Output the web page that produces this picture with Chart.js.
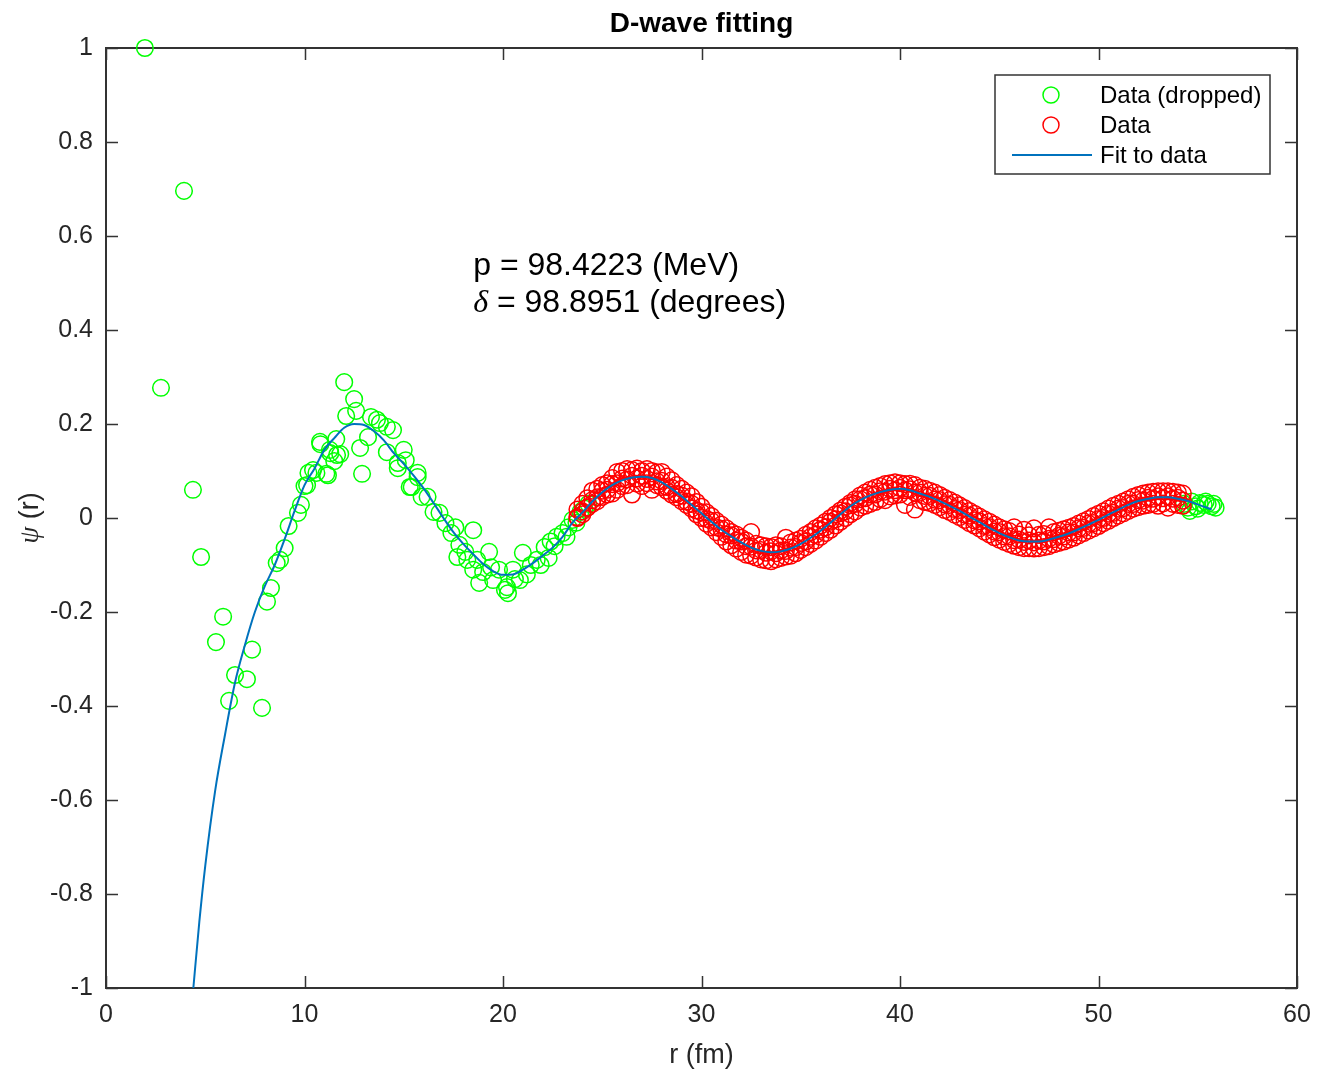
<!DOCTYPE html>
<html>
<head>
<meta charset="utf-8">
<title>D-wave fitting</title>
<script src="https://cdn.jsdelivr.net/npm/chart.js@4.4.1/dist/chart.umd.min.js"></script>
<style>
  html, body { margin: 0; padding: 0; background: #fff; }
  #wrap { width: 1319px; height: 1074px; }
</style>
</head>
<body>
<div id="wrap"><canvas id="chart" width="1319" height="1074"></canvas></div>
<script>
// axis ticks
const xTicks = [0, 10, 20, 30, 40, 50, 60];
const xTickLabels = ['0', '10', '20', '30', '40', '50', '60'];
const yTicks = [-1, -0.8, -0.6, -0.4, -0.2, 0, 0.2, 0.4, 0.6, 0.8, 1];
const yTickLabels = ['-1', '-0.8', '-0.6', '-0.4', '-0.2', '0', '0.2', '0.4', '0.6', '0.8', '1'];

// dropped data (green)
const greenX = [1.96, 2.77, 3.93, 4.38, 4.79, 5.54, 5.9, 6.2, 6.5, 7.1, 7.36, 7.86, 8.11, 8.31, 8.6, 8.77, 9.0, 9.2,
  9.67, 9.82, 10.0, 10.13, 10.2, 10.43, 10.6, 10.78, 10.8, 11.1, 11.18, 11.28, 11.3, 11.5, 11.6, 11.64, 11.8, 12.0,
  12.1, 12.5, 12.6, 12.8, 12.9, 13.2, 13.35, 13.65, 13.8, 14.15, 14.15, 14.46, 14.7, 14.7, 15.0, 15.1, 15.3, 15.4,
  15.7, 15.7, 15.9, 16.2, 16.5, 16.8, 17.1, 17.4, 17.6, 17.7, 17.8, 18.1, 18.2, 18.5, 18.5, 18.7, 18.8, 19.0, 19.3,
  19.4, 19.5, 19.8, 20.1, 20.2, 20.25, 20.5, 20.6, 20.85, 21.0, 21.2, 21.4, 21.7, 21.9, 22.1, 22.3, 22.4, 22.6, 22.7,
  23.0, 23.2, 23.3, 23.5, 23.7, 23.9, 24.1, 24.3,
  54.3, 54.5, 54.6, 54.7, 54.9, 55.0, 55.1, 55.3, 55.4, 55.5, 55.7, 55.8, 55.9];
const greenY = [1.0, 0.277, 0.696, 0.06, -0.083, -0.264, -0.21, -0.389, -0.334, -0.343, -0.28, -0.404, -0.178, -0.149, -0.096, -0.089, -0.064, -0.017,
  0.011, 0.028, 0.068, 0.07, 0.096, 0.102, 0.096, 0.162, 0.157, 0.094, 0.091, 0.145, 0.138, 0.121, 0.168, 0.134, 0.136, 0.289,
  0.217, 0.253, 0.228, 0.149, 0.094, 0.172, 0.215, 0.209, 0.202, 0.194, 0.14, 0.187, 0.106, 0.117, 0.145, 0.123, 0.066, 0.066,
  0.087, 0.096, 0.045, 0.045, 0.013, 0.011, -0.011, -0.032, -0.02, -0.083, -0.057, -0.072, -0.089, -0.026, -0.11, -0.089, -0.138, -0.115, -0.072,
  -0.105, -0.132, -0.11, -0.153, -0.147, -0.16, -0.11, -0.13, -0.132, -0.074, -0.12, -0.1, -0.089, -0.1, -0.062, -0.085, -0.05, -0.06, -0.04,
  -0.032, -0.04, -0.02, -0.004, -0.01, 0.013, 0.02, 0.03,
  0.03, 0.022, 0.015, 0.035, 0.025, 0.02, 0.032, 0.028, 0.035, 0.03, 0.025, 0.03, 0.022];

// fitted data (red): three points per r value
const redX = [23.75, 24, 24.25, 24.5, 24.75, 25, 25.25, 25.5, 25.75, 26, 26.25, 26.5, 26.75, 27, 27.25, 27.5, 27.75, 28,
  28.25, 28.5, 28.75, 29, 29.25, 29.5, 29.75, 30, 30.25, 30.5, 30.75, 31, 31.25, 31.5, 31.75, 32, 32.25, 32.5, 32.75, 33,
  33.25, 33.5, 33.75, 34, 34.25, 34.5, 34.75, 35, 35.25, 35.5, 35.75, 36, 36.25, 36.5, 36.75, 37, 37.25, 37.5, 37.75, 38,
  38.25, 38.5, 38.75, 39, 39.25, 39.5, 39.75, 40, 40.25, 40.5, 40.75, 41, 41.25, 41.5, 41.75, 42, 42.25, 42.5, 42.75, 43,
  43.25, 43.5, 43.75, 44, 44.25, 44.5, 44.75, 45, 45.25, 45.5, 45.75, 46, 46.25, 46.5, 46.75, 47, 47.25, 47.5, 47.75, 48,
  48.25, 48.5, 48.75, 49, 49.25, 49.5, 49.75, 50, 50.25, 50.5, 50.75, 51, 51.25, 51.5, 51.75, 52, 52.25, 52.5, 52.75, 53,
  53.25, 53.5, 53.75, 54, 54.25];
const redYUpper = [0.018, 0.03, 0.042, 0.058, 0.062, 0.07, 0.074, 0.085, 0.098, 0.1, 0.104, 0.102, 0.105, 0.1, 0.104, 0.1, 0.097, 0.098,
  0.088, 0.08, 0.07, 0.062, 0.054, 0.046, 0.034, 0.024, 0.012, 0.004, -0.006, -0.014, -0.022, -0.03, -0.035, -0.042, -0.048, -0.03, -0.055, -0.058,
  -0.06, -0.062, -0.058, -0.06, -0.042, -0.052, -0.048, -0.044, -0.036, -0.03, -0.022, -0.016, -0.008, 0.0, 0.008, 0.016, 0.024, 0.032, 0.04, 0.048,
  0.054, 0.06, 0.064, 0.068, 0.072, 0.074, 0.076, 0.074, 0.072, 0.073, 0.07, 0.064, 0.062, 0.058, 0.054, 0.049, 0.043, 0.038, 0.033, 0.027,
  0.021, 0.015, 0.009, 0.003, -0.003, -0.008, -0.014, -0.02, -0.024, -0.028, -0.02, -0.035, -0.025, -0.037, -0.022, -0.036, -0.034, -0.02, -0.03, -0.027,
  -0.024, -0.021, -0.017, -0.012, -0.007, -0.002, 0.004, 0.009, 0.014, 0.02, 0.026, 0.03, 0.035, 0.04, 0.045, 0.049, 0.052, 0.054, 0.056, 0.057,
  0.057, 0.057, 0.056, 0.054, 0.052];
const redYMid = [0.0, 0.014, 0.022, 0.038, 0.044, 0.058, 0.06, 0.072, 0.074, 0.084, 0.082, 0.09, 0.084, 0.09, 0.083, 0.088, 0.078, 0.079,
  0.066, 0.064, 0.051, 0.048, 0.035, 0.03, 0.016, 0.012, -0.002, -0.006, -0.02, -0.023, -0.035, -0.037, -0.048, -0.05, -0.06, -0.061, -0.069, -0.068,
  -0.074, -0.071, -0.075, -0.069, -0.07, -0.063, -0.062, -0.053, -0.05, -0.04, -0.036, -0.025, -0.02, -0.008, -0.003, 0.01, 0.014, 0.027, 0.03, 0.04,
  0.042, 0.05, 0.05, 0.057, 0.056, 0.062, 0.059, 0.064, 0.059, 0.061, 0.054, 0.054, 0.047, 0.047, 0.039, 0.038, 0.029, 0.028, 0.019, 0.017,
  0.007, 0.005, -0.005, -0.007, -0.017, -0.019, -0.029, -0.03, -0.039, -0.039, -0.047, -0.046, -0.051, -0.048, -0.052, -0.048, -0.05, -0.044, -0.045, -0.038,
  -0.039, -0.031, -0.031, -0.022, -0.021, -0.012, -0.011, -0.002, 0.0, 0.009, 0.011, 0.02, 0.021, 0.03, 0.03, 0.038, 0.037, 0.043, 0.041, 0.046,
  0.042, 0.046, 0.041, 0.043, 0.037];
const redYLower = [0.002, 0.008, 0.022, 0.03, 0.036, 0.045, 0.05, 0.052, 0.06, 0.068, 0.07, 0.05, 0.073, 0.068, 0.074, 0.06, 0.07, 0.066,
  0.058, 0.05, 0.044, 0.036, 0.028, 0.02, 0.008, 0.0, -0.012, -0.02, -0.03, -0.04, -0.05, -0.058, -0.065, -0.072, -0.078, -0.08, -0.084, -0.088,
  -0.09, -0.092, -0.088, -0.085, -0.082, -0.08, -0.075, -0.068, -0.062, -0.055, -0.048, -0.04, -0.032, -0.025, -0.016, -0.008, 0.0, 0.008, 0.014, 0.022,
  0.026, 0.03, 0.034, 0.04, 0.038, 0.046, 0.048, 0.05, 0.028, 0.045, 0.018, 0.038, 0.034, 0.032, 0.028, 0.023, 0.017, 0.013, 0.007, 0.002,
  -0.004, -0.011, -0.016, -0.022, -0.029, -0.035, -0.041, -0.046, -0.051, -0.055, -0.059, -0.062, -0.064, -0.064, -0.065, -0.064, -0.062, -0.06, -0.056, -0.053,
  -0.05, -0.046, -0.042, -0.037, -0.032, -0.027, -0.022, -0.017, -0.011, -0.006, 0.0, 0.005, 0.01, 0.015, 0.02, 0.023, 0.026, 0.028, 0.03, 0.026,
  0.031, 0.022, 0.03, 0.028, 0.026];

// fit curve
const fitX = [4.4, 4.7, 5.0, 5.5, 6.0, 6.5, 7.0, 7.5, 8.0, 8.5, 9.0, 9.5, 10.0, 10.5, 11.0, 11.5, 12.0, 12.5, 13.0, 13.5,
  14.0, 14.5, 15.0, 15.5, 16.0, 16.5, 17.0, 17.5, 18.0, 18.5, 19.0, 19.5, 20.0, 20.5, 21.0, 21.5, 22.0, 22.5, 23.0, 23.5,
  24.0, 24.5, 25.0, 25.5, 26.0, 26.5, 27.0, 27.5, 28.0, 28.5, 29.0, 29.5, 30.0, 30.5, 31.0, 31.5, 32.0, 32.5, 33.0, 33.5,
  34.0, 34.5, 35.0, 35.5, 36.0, 36.5, 37.0, 37.5, 38.0, 38.5, 39.0, 39.5, 40.0, 40.5, 41.0, 41.5, 42.0, 42.5, 43.0, 43.5,
  44.0, 44.5, 45.0, 45.5, 46.0, 46.5, 47.0, 47.5, 48.0, 48.5, 49.0, 49.5, 50.0, 50.5, 51.0, 51.5, 52.0, 52.5, 53.0, 53.5,
  54.0, 54.5, 55.0, 55.7];
const fitY = [-1.0, -0.86, -0.74, -0.58, -0.46, -0.35, -0.27, -0.2, -0.145, -0.1, -0.045, 0.015, 0.07, 0.105, 0.145, 0.17, 0.192, 0.2, 0.198, 0.185,
  0.165, 0.138, 0.115, 0.09, 0.063, 0.032, 0.0, -0.03, -0.055, -0.077, -0.098, -0.113, -0.121, -0.12, -0.11, -0.096, -0.08, -0.063, -0.04, -0.01,
  0.012, 0.035, 0.055, 0.07, 0.08, 0.086, 0.088, 0.085, 0.076, 0.062, 0.046, 0.028, 0.01, -0.008, -0.025, -0.039, -0.052, -0.063, -0.07, -0.073,
  -0.071, -0.065, -0.055, -0.042, -0.027, -0.01, 0.008, 0.025, 0.038, 0.048, 0.055, 0.06, 0.062, 0.059, 0.052, 0.045, 0.036, 0.026, 0.015, 0.003,
  -0.009, -0.021, -0.032, -0.041, -0.048, -0.05, -0.05, -0.046, -0.04, -0.033, -0.024, -0.014, -0.004, 0.007, 0.018, 0.028, 0.036, 0.041, 0.044, 0.044,
  0.041, 0.036, 0.029, 0.018];

const FONT = "'Liberation Sans', Arial, Helvetica, sans-serif";
const SERIF = "'Liberation Serif', 'DejaVu Serif', serif";
const INK = '#262626';
const GREEN = '#00ff00', RED = '#ff0000', BLUE = '#0072bd';

const greenPts = greenX.map((x, i) => ({x, y: greenY[i]}));
const redPts = [];
redX.forEach((x, i) => {
  redPts.push({x, y: redYUpper[i]});
  redPts.push({x, y: redYMid[i]});
  redPts.push({x, y: redYLower[i]});
});
const fitPts = fitX.map((x, i) => ({x, y: fitY[i]}));

// MATLAB-like box, inward ticks, titles, annotation and legend
const decor = {
  id: 'decor',
  beforeDatasetsDraw(chart) {
    const {ctx, chartArea: a, scales: {x, y}} = chart;
    ctx.save();
    ctx.strokeStyle = '#333';
    ctx.lineWidth = 2;
    ctx.strokeRect(a.left, a.top, a.right - a.left, a.bottom - a.top);
    ctx.lineWidth = 1.5;
    ctx.beginPath();
    x.ticks.forEach(t => {
      const px = Math.round(x.getPixelForValue(t.value)) + 0.5;
      ctx.moveTo(px, a.bottom); ctx.lineTo(px, a.bottom - 12);
      ctx.moveTo(px, a.top); ctx.lineTo(px, a.top + 12);
    });
    y.ticks.forEach(t => {
      const py = Math.round(y.getPixelForValue(t.value)) + 0.5;
      ctx.moveTo(a.left, py); ctx.lineTo(a.left + 12, py);
      ctx.moveTo(a.right, py); ctx.lineTo(a.right - 12, py);
    });
    ctx.stroke();
    ctx.restore();
  },
  afterDraw(chart) {
    const {ctx, chartArea: a, scales: {x, y}} = chart;
    const cx = (a.left + a.right) / 2;
    ctx.save();
    ctx.fillStyle = '#000';
    ctx.textAlign = 'center';
    ctx.textBaseline = 'alphabetic';
    ctx.font = 'bold 28px ' + FONT;
    ctx.fillText('D-wave fitting', cx, 32);

    ctx.fillStyle = INK;
    ctx.font = '27px ' + FONT;
    ctx.fillText('r (fm)', cx, 1063);

    // y label: ψ (r), rotated
    ctx.save();
    ctx.translate(38, (a.top + a.bottom) / 2);
    ctx.rotate(-Math.PI / 2);
    ctx.textAlign = 'left';
    ctx.font = 'italic 27px ' + SERIF;
    const wPsi = ctx.measureText('ψ').width;
    ctx.font = '27px ' + FONT;
    const wR = ctx.measureText(' (r)').width;
    const x0 = -(wPsi + wR) / 2;
    ctx.font = 'italic 27px ' + SERIF;
    ctx.fillText('ψ', x0, 0);
    ctx.font = '27px ' + FONT;
    ctx.fillText(' (r)', x0 + wPsi, 0);
    ctx.restore();

    // annotation
    ctx.fillStyle = '#000';
    ctx.textAlign = 'left';
    const ax = x.getPixelForValue(18.5);
    ctx.font = '32px ' + FONT;
    ctx.fillText('p = 98.4223 (MeV)', ax, y.getPixelForValue(0.517));
    ctx.font = 'italic 32px ' + SERIF;
    const wd = ctx.measureText('δ').width;
    ctx.fillText('δ', ax, y.getPixelForValue(0.438));
    ctx.font = '32px ' + FONT;
    ctx.fillText(' = 98.8951 (degrees)', ax + wd, y.getPixelForValue(0.438));

    // legend box
    const lx = 995, ly = 75, lw = 275, lh = 99;
    ctx.fillStyle = '#fff';
    ctx.fillRect(lx, ly, lw, lh);
    ctx.strokeStyle = '#333';
    ctx.lineWidth = 1.5;
    ctx.strokeRect(lx, ly, lw, lh);
    const rows = [
      {text: 'Data (dropped)', color: GREEN, kind: 'circle'},
      {text: 'Data', color: RED, kind: 'circle'},
      {text: 'Fit to data', color: BLUE, kind: 'line'}
    ];
    ctx.font = '24px ' + FONT;
    ctx.textBaseline = 'middle';
    rows.forEach((r, i) => {
      const ry = ly + 20 + i * 30;
      if (r.kind === 'circle') {
        ctx.strokeStyle = r.color; ctx.lineWidth = 1.5;
        ctx.beginPath(); ctx.arc(lx + 56, ry, 8, 0, Math.PI * 2); ctx.stroke();
      } else {
        ctx.strokeStyle = r.color; ctx.lineWidth = 2;
        ctx.beginPath(); ctx.moveTo(lx + 17, ry); ctx.lineTo(lx + 97, ry); ctx.stroke();
      }
      ctx.fillStyle = '#000';
      ctx.fillText(r.text, lx + 105, ry + 1);
    });
    ctx.restore();
  }
};

const ctx = document.getElementById('chart').getContext('2d');
new Chart(ctx, {
  type: 'scatter',
  data: {
    datasets: [
      {label: 'Data (dropped)', data: greenPts, borderColor: GREEN, backgroundColor: 'rgba(0,0,0,0)',
        pointRadius: 8.3, pointBorderWidth: 1.5, order: 3, clip: false},
      {label: 'Data', data: redPts, borderColor: RED, backgroundColor: 'rgba(0,0,0,0)',
        pointRadius: 8.3, pointBorderWidth: 1.5, order: 2},
      {label: 'Fit to data', data: fitPts, showLine: true, borderColor: BLUE, borderWidth: 2,
        pointRadius: 0, cubicInterpolationMode: 'monotone', order: 1}
    ]
  },
  options: {
    responsive: false,
    animation: false,
    devicePixelRatio: 1,
    events: [],
    layout: {padding: {top: 48, right: 22, left: 0, bottom: 0}},
    plugins: {legend: {display: false}, tooltip: {enabled: false}, title: {display: false}},
    scales: {
      x: {
        type: 'linear', min: 0, max: 60,
        afterBuildTicks: s => { s.ticks = xTicks.map(v => ({value: v})); },
        afterFit: s => { s.height = 86; s.paddingLeft = 0; s.paddingRight = 0; },
        ticks: {color: INK, font: {family: FONT, size: 25}, padding: 12, maxRotation: 0, autoSkip: false,
          callback: (v, i) => xTickLabels[i]},
        grid: {display: false, drawTicks: false},
        border: {display: false}
      },
      y: {
        type: 'linear', min: -1, max: 1,
        afterBuildTicks: s => { s.ticks = yTicks.map(v => ({value: v})); },
        afterFit: s => { s.width = 106; s.paddingTop = 0; s.paddingBottom = 0; },
        ticks: {color: INK, font: {family: FONT, size: 25}, padding: 13, autoSkip: false,
          callback: (v, i) => yTickLabels[i]},
        grid: {display: false, drawTicks: false},
        border: {display: false}
      }
    }
  },
  plugins: [decor]
});
</script>
</body>
</html>
